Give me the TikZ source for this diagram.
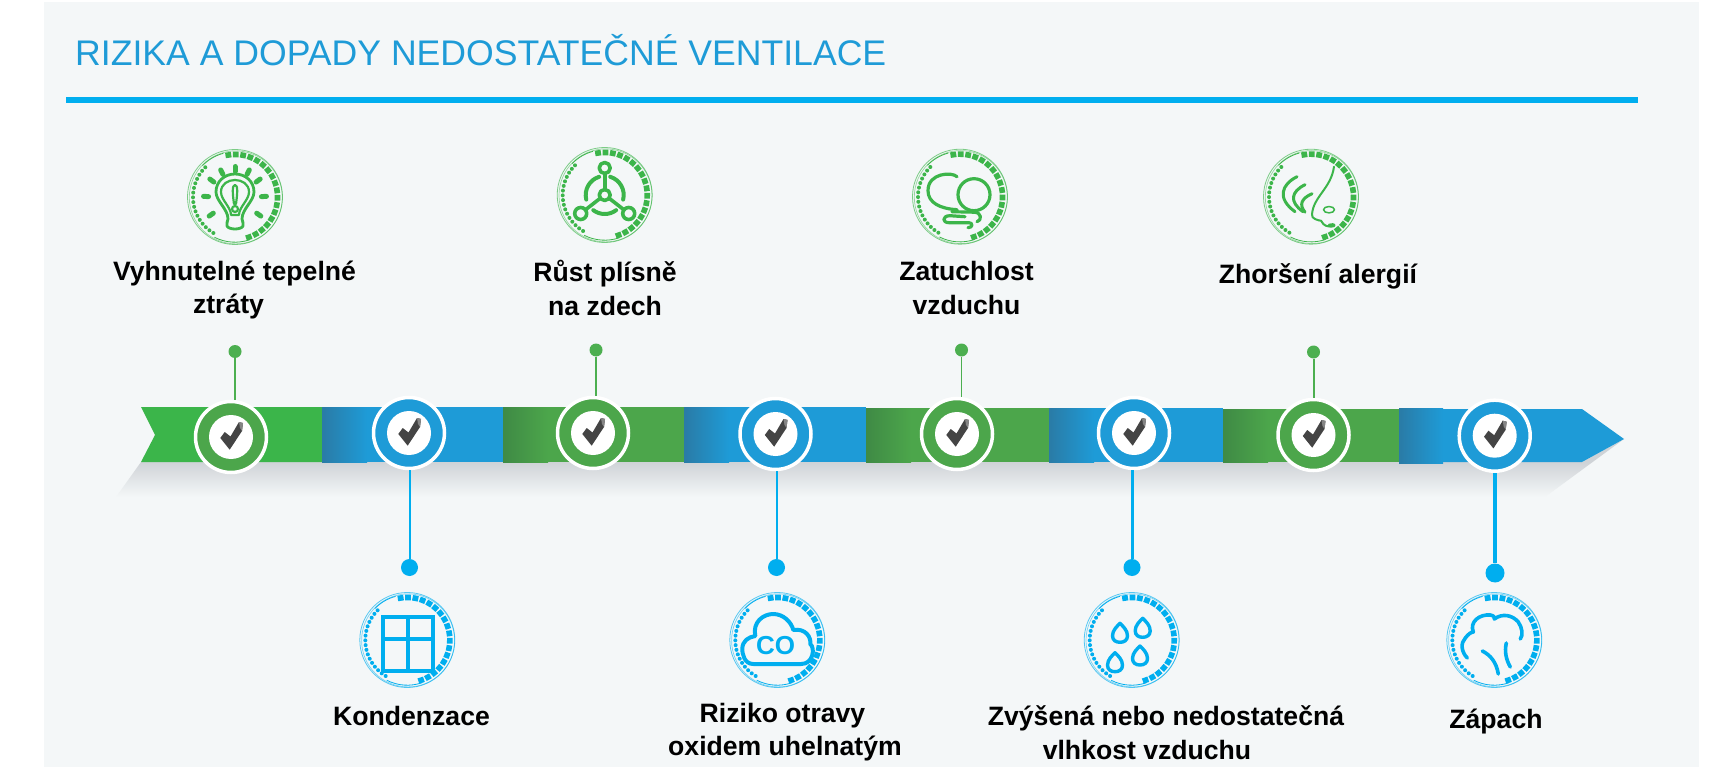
\documentclass[tikz,border=0pt]{standalone}
\usepackage{fontspec}
\setmainfont{Liberation Sans}
\usetikzlibrary{calc}
\definecolor{panelbg}{HTML}{F4F7F8}
\definecolor{topblue}{HTML}{1E9BD7}
\definecolor{rulecol}{HTML}{00AEEF}
\definecolor{ribgreen}{HTML}{4CA64B}
\definecolor{ribgreenA}{HTML}{3BB54A}
\definecolor{ribgreenD}{HTML}{3F8A45}
\definecolor{ribblueD}{HTML}{2A7BA6}
\definecolor{icogreen}{HTML}{3CB54A}
\definecolor{dotgreen}{HTML}{4CAF50}
\definecolor{chk}{HTML}{444444}
\definecolor{shadowc}{HTML}{CFD3D7}
\tikzset{
  x=1pt,y=-1pt,
  label text/.style={font=\bfseries\fontsize{26.6}{33.5}\selectfont,align=center,text=black,inner sep=0pt},
  badge disc/.style={circle,draw=white,line width=3.5pt,fill=#1,minimum size=71pt,inner sep=0pt,outer sep=1.75pt},
  enddot/.style={circle,fill=#1,inner sep=0pt,minimum size=13pt},
  icon line/.style={line width=#1,line cap=round,line join=round},
}
\newcommand{\ringicon}[4]{% name x y colour
  \coordinate (#1) at (#2,#3);
  \begin{scope}[shift={(#1)},#4]
    \draw[line width=.8pt,draw opacity=.65] (0,0) circle[radius=47.5pt];
    \draw[line width=.7pt,draw opacity=.5] (.8,.4) circle[radius=46.5pt];
    \foreach \a in {-71,-61,...,105}{
      \fill[shift={(\a:42.5pt)},rotate=\a] (-2.8,-2.9) rectangle (2.8,2.9);
    }
    \foreach \a in {135,141.5,...,243}{
      \fill (\a:42pt) circle[radius=2pt];
    }
    \draw[line width=.8pt] (136:45.2pt) arc[start angle=136,end angle=105,radius=45.2pt];
    \draw[line width=.8pt] (243:45.2pt) arc[start angle=243,end angle=289,radius=45.2pt];
  \end{scope}
}
\newcommand{\badge}[4]{% name x y colour
  \node[badge disc=#4] (#1) at (#2,#3) {};
  \begin{scope}[shift={(#1.center)}]
    \fill[white] (0,0) circle[radius=22pt];
    \fill[chk] (-10.7,1) -- (-6.3,-5) -- (-.5,-.5) -- (8,-15) -- (12,-14) -- (11,-6) -- (-1.3,12.7) -- cycle;
    \fill[chk!65] (8,-15) -- (12,-14) -- (11,-6) -- (9,-9) -- cycle;
  \end{scope}
}
\newcommand{\ribseg}[5]{%
  \fill[#5] (#1,#3) rectangle (#2,#4);
}
\begin{document}
\begin{tikzpicture}
\useasboundingbox (0,0) rectangle (1735,767);
\fill[white] (0,0) rectangle (1735,767);
\fill[panelbg] (44,2) rectangle (1699,767);
% title
\node[anchor=base west,inner sep=0pt,text=topblue,font=\fontsize{35.6}{40}\selectfont] (title) at (75,66) {RIZIKA A DOPADY NEDOSTATEČNÉ VENTILACE};
\fill[rulecol] (66,97) rectangle (1638,103);
% ribbon shadow
\begin{scope}
  \clip (141,462) -- (116,497) -- (1545,497) -- (1624,439) -- (1582,462) -- cycle;
  \fill[shadowc] (100,430) rectangle (1640,462);
  \shade[top color=shadowc,bottom color=panelbg] (100,462) rectangle (1640,497);
\end{scope}
% ribbon
\fill[ribgreenA] (141,407) -- (322,407) -- (322,462) -- (141,462) -- (155,435) -- cycle;
\ribseg{322}{503}{407}{462}{topblue}
\ribseg{503}{684}{407}{462}{ribgreen}
\ribseg{684}{866}{407}{462}{topblue}
\ribseg{866}{1049}{408}{462}{ribgreen}
\ribseg{1049}{1223}{408}{462}{topblue}
\ribseg{1223}{1399}{409}{462}{ribgreen}
\fill[topblue] (1399,409) -- (1582,409) -- (1624,439) -- (1582,462) -- (1399,462) -- cycle;
\shade[left color=ribblueD,right color=topblue] (322,407) rectangle (367,462);
\shade[left color=ribgreenD,right color=ribgreen] (503,407) rectangle (548,462);
\shade[left color=ribblueD,right color=topblue] (684,407) rectangle (729,462);
\shade[left color=ribgreenD,right color=ribgreen] (866,408) rectangle (911,462);
\shade[left color=ribblueD,right color=topblue] (1049,408) rectangle (1094,462);
\shade[left color=ribgreenD,right color=ribgreen] (1223,409) rectangle (1268,462);
\shade[left color=ribblueD,right color=topblue] (1399,408) rectangle (1443,463);
% badges
\badge{b1}{231}{437}{ribgreen}
\badge{b2}{409}{433}{topblue}
\badge{b3}{593}{433}{ribgreen}
\badge{b4}{775.5}{434}{topblue}
\badge{b5}{957}{434}{ribgreen}
\badge{b6}{1134}{433}{topblue}
\badge{b7}{1313.5}{435}{ribgreen}
\badge{b8}{1494.7}{435.7}{topblue}
% end dots and stems
\node[enddot=dotgreen] (d1) at (235,351.5) {};
\node[enddot=dotgreen] (d3) at (596,350) {};
\node[enddot=dotgreen] (d5) at (961.5,350) {};
\node[enddot=dotgreen] (d7) at (1313.5,352) {};
\node[enddot=rulecol,minimum size=17pt] (d2) at (409.5,567.5) {};
\node[enddot=rulecol,minimum size=17pt] (d4) at (776.5,567.5) {};
\node[enddot=rulecol,minimum size=17pt] (d6) at (1132,567.5) {};
\node[enddot=rulecol,minimum size=19pt] (d8) at (1495,573) {};
\draw[dotgreen,line width=2pt] (d1) -- (d1 |- b1.north);
\draw[dotgreen,line width=2pt] (d3) -- (d3 |- b3.north);
\draw[dotgreen,line width=1.5pt] (d5) -- (d5 |- b5.north);
\draw[dotgreen,line width=2pt] (d7) -- (d7 |- b7.north);
\draw[rulecol,line width=2pt] (d2) -- (d2 |- b2.south);
\draw[rulecol,line width=2pt] (d4) -- (d4 |- b4.south);
\draw[rulecol,line width=3pt] (d6) -- (d6 |- b6.south);
\draw[rulecol,line width=4pt] (d8) -- (d8 |- b8.south);
% labels
\node[label text] (t1) at (234.5,290) {Vyhnutelné tepelné\\ztráty\hspace*{12pt}\mbox{}};
\node[label text] (t3) at (605,288) {Růst plísně\\na zdech};
\node[label text] (t5) at (966.5,288) {Zatuchlost\\vzduchu};
\node[label text] (t7) at (1318,276) {Zhoršení alergií};
\node[label text] (t2) at (411.5,716) {Kondenzace};
\node[label text] (t4) at (785,732) {Riziko otravy\hspace*{5pt}\mbox{}\\oxidem uhelnatým};
\node[label text] (t6) at (1166,732.5) {Zvýšená nebo nedostatečná\\vlhkost vzduchu\hspace*{38pt}\mbox{}};
\node[label text] (t8) at (1496,722) {Zápach};
% icons
\ringicon{i1}{235}{197}{icogreen,fill=icogreen,draw=icogreen}
\begin{scope}[shift={(i1)},icogreen,icon line=2.8pt]
  \foreach \a in {90,117,63,143,37,177,3,215,-35}{
    \draw[line width=5pt,shift={(0,1)}] (\a:26.5pt) -- (\a:31.5pt);
  }
  \draw (-7,22) .. controls (-7,12) and (-19,4) .. (-19,-5) .. controls (-19,-16) and (-10,-23) .. (0,-23) .. controls (10,-23) and (19,-16) .. (19,-5) .. controls (19,4) and (7,12) .. (7,22) .. controls (7,24) and (9,26) .. (8,29) .. controls (6,33) and (-6,33) .. (-8,29) .. controls (-9,26) and (-7,24) .. (-7,22) -- cycle;
  \draw[line width=2.2pt] (-4,18) .. controls (-4,10) and (-14,3) .. (-14,-5) .. controls (-14,-13) and (-7,-17) .. (0,-17) .. controls (7,-17) and (14,-13) .. (14,-5) .. controls (14,3) and (4,10) .. (4,18) -- cycle;
  \draw[line width=2.2pt] (0,-12) .. controls (3,-12) and (2.5,-4) .. (1,7) -- (-1,7) .. controls (-2.5,-4) and (-3,-12) .. (0,-12) -- cycle;
  \draw[line width=2.2pt] (0,12) circle[radius=3pt];
\end{scope}
\ringicon{i3}{604.7}{195}{icogreen,fill=icogreen,draw=icogreen}
\begin{scope}[shift={(i3)},icogreen,icon line=3.6pt]
  \draw (0,0) circle[radius=5.5pt];
  \draw (0,-27) circle[radius=5.5pt];
  \draw (-24,18.5) circle[radius=6pt];
  \draw (24,18.5) circle[radius=6pt];
  \draw (0,-5.5) -- (0,-21.5);
  \draw (-4.5,3.3) -- (-19.5,15);
  \draw (4.5,3.3) -- (19.5,15);
  \draw[line width=4pt] (107:19pt) arc[start angle=107,end angle=194,radius=19pt];
  \draw[line width=4pt] (-14:19pt) arc[start angle=-14,end angle=73,radius=19pt];
  \draw[line width=4pt] (233:19pt) arc[start angle=233,end angle=307,radius=19pt];
\end{scope}
\ringicon{i5}{960}{196.7}{icogreen,fill=icogreen,draw=icogreen}
\begin{scope}[shift={(i5)},icogreen,icon line=3.2pt]
  \draw (14,-2) circle[radius=16pt];
  \draw (-3,-20) .. controls (-8,-25) and (-32,-24) .. (-32,-6) .. controls (-32,6) and (-20,12) .. (-3,13);
  \draw (-8,15) -- (14,15.5) .. controls (22,15.5) and (22,24) .. (17,25);
  \draw (5,20) -- (-10,19) .. controls (-18,19) and (-18,26) .. (-11,26) -- (9,26) .. controls (13,26) and (13,31) .. (8,31);
\end{scope}
\ringicon{i7}{1311}{196.7}{icogreen,fill=icogreen,draw=icogreen}
\begin{scope}[shift={(i7)},icogreen,icon line=3pt]
  \draw[line width=2pt] (23,-30) .. controls (20,-8) and (2,0) .. (1,18) .. controls (0,22) and (8,24) .. (10,24) .. controls (13,26) and (10,29) .. (20,30) .. controls (26,30) and (24,26) .. (18,28);
  \draw[line width=1.5pt] (18,13) ellipse[x radius=5.5pt,y radius=3.2pt];
  \draw (-14,-20) .. controls (-30,-12) and (-34,2) .. (-16,15);
  \draw (-6,-12) .. controls (-20,-5) and (-22,5) .. (-8,15);
  \draw (1,-3) .. controls (-10,2) and (-12,8) .. (-6,15.5);
\end{scope}
\ringicon{i2}{407.3}{640}{rulecol,fill=rulecol,draw=rulecol}
\begin{scope}[shift={(i2)},rulecol]
  \draw[line width=4pt] (-24.5,-23.5) rectangle (25.5,31);
  \draw[line width=4pt] (.5,-23.5) -- (.5,31);
  \draw[line width=4pt] (-24.5,-1) -- (25.5,-1);
\end{scope}
\ringicon{i4}{777.3}{640}{rulecol,fill=rulecol,draw=rulecol}
\begin{scope}[shift={(i4)},rulecol,icon line=4pt]
  \draw (-24,24) .. controls (-33,24) and (-35,14) .. (-35,9) .. controls (-35,1) and (-29,-3) .. (-22,-4) .. controls (-25,-18) and (-14,-26) .. (-4,-26) .. controls (6,-26) and (14,-18) .. (16,-10) .. controls (28,-12) and (34,-3) .. (33,4) .. controls (38,8) and (36,24) .. (24,24) -- cycle;
  \node[inner sep=0pt,font=\bfseries\fontsize{26}{26}\selectfont,text=rulecol] (co) at (-1.7,6) {CO};
\end{scope}
\ringicon{i6}{1131.7}{640}{rulecol,fill=rulecol,draw=rulecol}
\begin{scope}[shift={(i6)},rulecol,icon line=3.4pt]
  \foreach \p in {(-11.7,-6.7),(11,-11.7),(-16.7,22.7),(8.3,16)}{
    \draw[shift={\p}] (0,-10) .. controls (3,-7) and (7.5,-3) .. (7.5,2.5) .. controls (7.5,7) and (4,9) .. (0,9) .. controls (-4,9) and (-7.5,7) .. (-7.5,2.5) .. controls (-7.5,-3) and (-3,-7) .. (0,-10) -- cycle;
  }
\end{scope}
\ringicon{i8}{1494.3}{640}{rulecol,fill=rulecol,draw=rulecol}
\begin{scope}[shift={(i8)},rulecol,icon line=3.6pt]
  \draw (-27,18) .. controls (-33,12) and (-34,3) .. (-29,-2) .. controls (-26,-6) and (-23,-8) .. (-21,-8) .. controls (-25,-18) and (-15,-26) .. (-4,-25) .. controls (1,-24) and (0,-22) .. (0,-21) .. controls (8,-27) and (18,-25) .. (24,-18) .. controls (28,-12) and (29,-5) .. (26,-1);
  \draw (-12,11) .. controls (-4,15) and (2,22) .. (4,34);
  \draw (12,3) .. controls (10,12) and (12,20) .. (16,27);
\end{scope}
\end{tikzpicture}
\end{document}
